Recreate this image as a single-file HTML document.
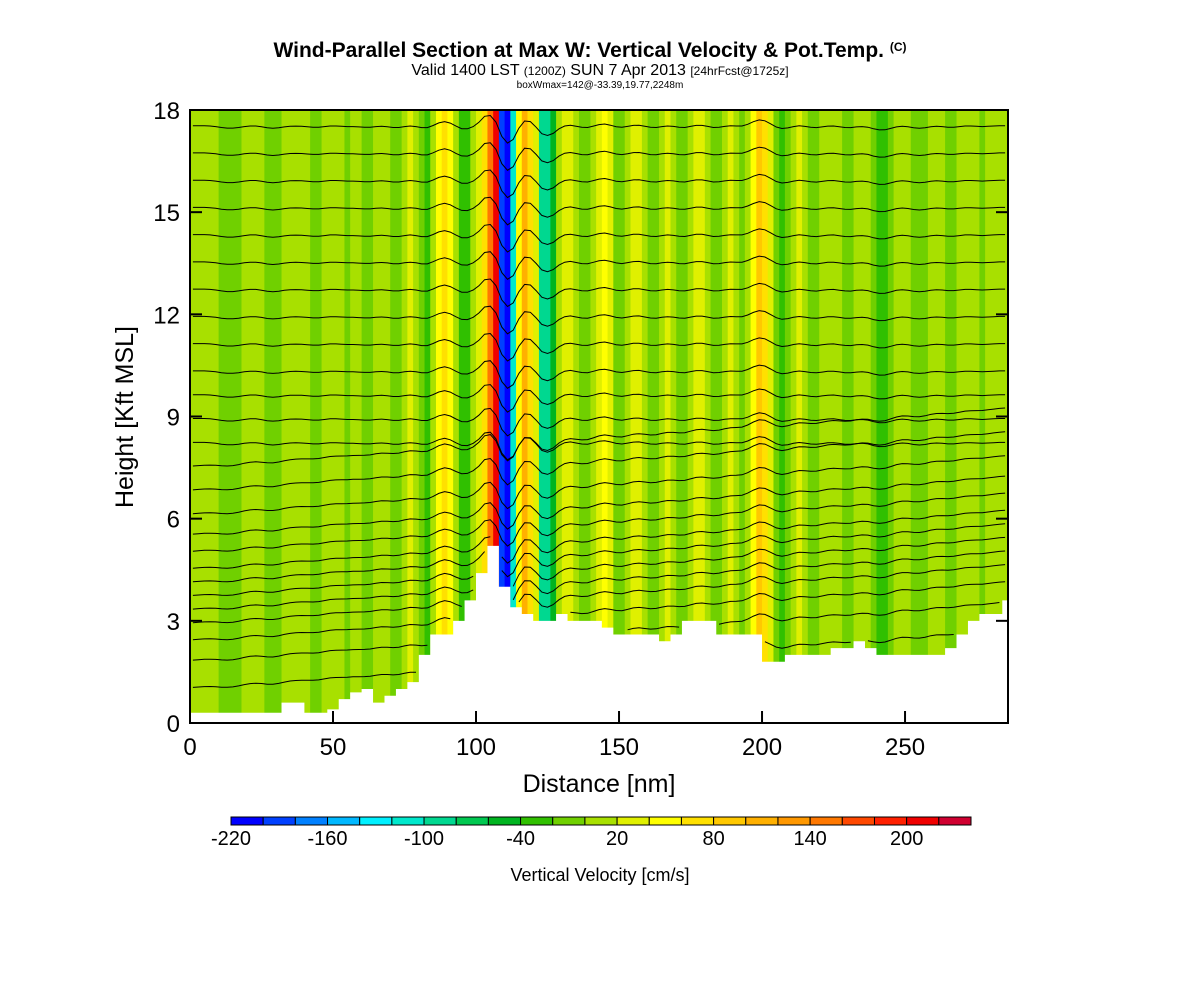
<!DOCTYPE html>
<html><head><meta charset="utf-8"><style>
body{margin:0;background:#fff;}
svg{display:block;font-family:"Liberation Sans",sans-serif;}
</style></head><body>
<svg id="chart" width="1200" height="1000">
<text x="590" y="57" text-anchor="middle" font-size="21" font-weight="bold">Wind-Parallel Section at Max W: Vertical Velocity &amp; Pot.Temp. <tspan font-size="12" dy="-6">(C)</tspan></text>
<text x="600" y="75" text-anchor="middle" font-size="16">Valid 1400 LST <tspan font-size="12">(1200Z)</tspan> SUN 7 Apr 2013 <tspan font-size="12">[24hrFcst@1725z]</tspan></text>
<text x="600" y="88" text-anchor="middle" font-size="10">boxWmax=142@-33.39,19.77,2248m</text>
<g id="field"></g>
<g id="terrain"></g>
<g id="contours"></g>
<rect x="190" y="110" width="818" height="613" fill="none" stroke="#000" stroke-width="2"/>
<g id="axes"></g>
<text x="599" y="792" text-anchor="middle" font-size="25">Distance [nm]</text>
<text transform="translate(133,417) rotate(-90)" text-anchor="middle" font-size="25">Height [Kft MSL]</text>
<g id="colorbar"></g>
<text x="600" y="881" text-anchor="middle" font-size="18">Vertical Velocity [cm/s]</text>
</svg>
<script>
const NS="http://www.w3.org/2000/svg";
const xTicks=[0,50,100,150,200,250];
const yTicks=[0,3,6,9,12,15,18];
const cbLevels=[-220,-200,-180,-160,-140,-120,-100,-80,-60,-40,-20,0,20,40,60,80,100,120,140,160,180,200,220,240];
const cbLabels=[-220,-160,-100,-40,20,80,140,200];
const cbColors=["#0000ff","#0040ff","#0080ff","#00b8ff","#00f0ff","#00e8cc","#00d890","#00c850","#00b420","#30c000","#70d000","#a8e000","#e0f000","#ffff00","#ffe000","#ffc800","#ffb000","#ff9800","#ff7800","#ff4800","#ff2000","#f00000","#d00030"];
// vertical velocity per 2-nm column (cm/s)
const wCols=[10,10,10,10,10,-10,-10,-10,-10,10,10,10,10,-10,-20,-10,10,10,0,10,10,-10,-10,10,10,10,10,-10,10,10,-10,-10,10,10,10,-10,-20,10,20,10,-10,-30,10,40,60,40,10,-40,-30,10,20,60,140,200,-200,-220,-120,40,100,60,20,-100,-90,-60,10,20,20,10,-10,-20,10,20,40,20,-10,-20,10,20,20,10,-10,-20,10,20,10,-10,-20,10,20,20,10,-20,-10,10,20,10,-10,10,40,80,60,20,-10,-30,-10,10,20,10,-10,-20,10,10,10,10,-10,-20,10,10,10,-20,-30,-30,-10,10,10,10,-10,-20,-10,10,10,10,-10,-10,10,10,10,10,-10,10,10,10,10];
// terrain height (kft) every 4 nm
const terrainH=[0.3,0.3,0.3,0.3,0.3,0.3,0.3,0.3,0.6,0.6,0.3,0.3,0.4,0.7,0.9,1.0,0.6,0.8,1.0,1.2,2.0,2.6,2.6,3.0,3.6,4.4,5.2,4.0,3.4,3.2,3.0,3.0,3.2,3.0,3.0,3.0,2.8,2.6,2.6,2.6,2.6,2.4,2.6,3.0,3.0,3.0,2.6,2.6,2.6,2.6,1.8,1.8,2.0,2.0,2.0,2.0,2.2,2.2,2.4,2.2,2.0,2.0,2.0,2.0,2.0,2.0,2.2,2.6,3.0,3.2,3.2,3.6];
// potential temperature contour heights at left edge (kft)
const thetaLevels=[17.5,16.7,15.9,15.1,14.3,13.5,12.7,11.9,11.1,10.3,9.6,8.9,8.2,7.5,6.8,6.1,5.5,5.0,4.5,4.1,3.7,3.3,2.9,2.4,1.8,1.0];
const X0=190,X1=1008,XMAX=286,Y0=723,Y1=110,YMAX=18;
const sx=v=>X0+v/XMAX*(X1-X0);
const sy=v=>Y0-v/YMAX*(Y0-Y1);
function colorFor(w){for(let i=0;i<cbColors.length;i++){if(w<cbLevels[i+1])return cbColors[i];}return cbColors[cbColors.length-1];}
function mk(tag,attrs,parent){const e=document.createElementNS(NS,tag);for(const k in attrs)e.setAttribute(k,attrs[k]);parent.appendChild(e);return e;}
const field=document.getElementById('field');
wCols.forEach((w,i)=>{
  const x=i*2; if(x>=XMAX)return;
  const r=mk('rect',{x:sx(x),y:Y1,width:sx(Math.min(x+2,XMAX))-sx(x)+0.6,height:Y0-Y1,fill:colorFor(w)},field);
  
  
});
const ter=document.getElementById('terrain');
let d=`M${sx(0)},${Y0}`;
terrainH.forEach((h,i)=>{const x=i*4;d+=` L${sx(x)},${sy(h)} L${sx(Math.min(x+4,XMAX))},${sy(h)}`;});
d+=` L${X1},${Y0} Z`;
const tp=mk('path',{d:d,fill:"#fff"},ter);


function terrAt(x){return terrainH[Math.min(terrainH.length-1,Math.floor(x/4))];}
function wAt(i){return wCols[Math.max(0,Math.min(wCols.length-1,i))];}
const cont=document.getElementById('contours');
thetaLevels.forEach(h=>{
  let pts=[],segs=[];
  for(let i=0;i<wCols.length;i++){
    const x=i*2+1; if(x>XMAX)break;
    let s=0;for(let k=-2;k<=2;k++)s+=wAt(i+k)*(3-Math.abs(k));
    const ww=s/9;
    const hh=h+ww*0.004+(h<8?x*0.006:0);
    if(hh<=terrAt(x)+0.1||hh>YMAX){if(pts.length>1)segs.push(pts);pts=[];continue;}
    pts.push(`${sx(x).toFixed(1)},${sy(hh).toFixed(1)}`);
  }
  if(pts.length>1)segs.push(pts);
  segs.forEach(s=>{const p=mk('polyline',{points:s.join(' '),fill:'none',stroke:'#000','stroke-width':1},cont);
    
    });
});
const ax=document.getElementById('axes');
xTicks.forEach(v=>{
  const l=mk('line',{x1:sx(v),x2:sx(v),y1:Y0,y2:Y0-12,stroke:'#000','stroke-width':2},ax);
  
  
  const t=mk('text',{x:sx(v),y:755,'text-anchor':'middle','font-size':24},ax);t.textContent=v;
  
  
});
yTicks.forEach(v=>{
  const l=mk('line',{x1:X0,x2:X0+12,y1:sy(v),y2:sy(v),stroke:'#000','stroke-width':2},ax);
  
  
  const l2=mk('line',{x1:X1,x2:X1-12,y1:sy(v),y2:sy(v),stroke:'#000','stroke-width':2},ax);
  
  
  const t=mk('text',{x:180,y:sy(v)+9,'text-anchor':'end','font-size':24},ax);t.textContent=v;
  
  
});
const cb=document.getElementById('colorbar');
const CB0=231,CB1=971,cbw=(CB1-CB0)/cbColors.length;
const cbx=v=>CB0+(v-cbLevels[0])/(cbLevels[cbLevels.length-1]-cbLevels[0])*(CB1-CB0);
cbColors.forEach((c,i)=>{
  const r=mk('rect',{x:cbx(cbLevels[i]),y:817,width:cbw,height:8,fill:c,stroke:'#000','stroke-width':1},cb);
  
  
});
cbLabels.forEach(v=>{
  const t=mk('text',{x:cbx(v),y:845,'text-anchor':'middle','font-size':20},cb);t.textContent=v;
  
  
});
</script>
</body></html>
